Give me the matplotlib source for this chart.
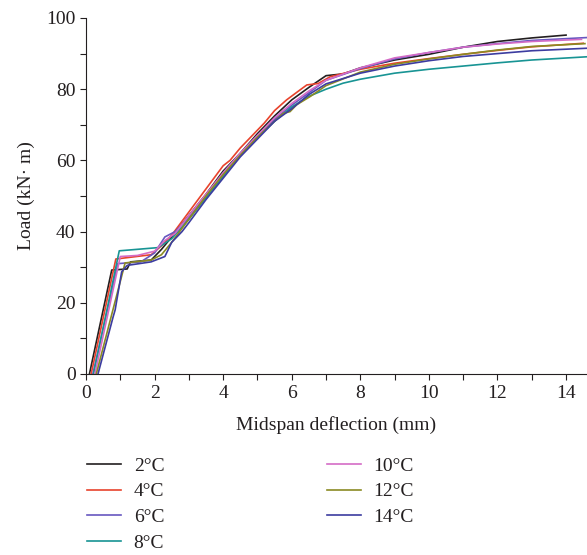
import matplotlib
matplotlib.use("Agg")
import matplotlib.pyplot as plt

plt.rcParams['font.family'] = ['Liberation Serif', 'DejaVu Serif']

labels = ['2°C', '4°C', '6°C', '8°C', '10°C', '12°C', '14°C']
colors = ['#231f20', '#e8432c', '#6757c0', '#189494', '#d46cc6', '#8a8a22', '#3c3ca0']

x_2 = [0.10, 0.75, 1.20, 1.30, 1.90, 2.20, 2.50, 3.0, 3.5, 4.0, 4.5, 5.0, 5.5, 6.0, 6.5, 7.0, 7.5, 8.0, 9.0, 10.0, 11.0, 12.0, 13.0, 14.0]
y_2 = [0.0, 29.2, 29.5, 31.5, 32.0, 35.0, 38.5, 44.5, 50.5, 57.0, 62.0, 67.5, 72.5, 77.0, 80.5, 83.8, 84.3, 86.0, 88.2, 89.8, 91.8, 93.4, 94.4, 95.2]

x_4 = [0.15, 0.87, 1.90, 2.20, 2.50, 3.0, 3.5, 4.0, 4.2, 4.5, 5.0, 5.2, 5.5, 5.85, 6.2, 6.44, 6.77, 7.12, 7.7, 8.0, 9.0, 10.0, 11.0, 12.0, 13.0, 14.5]
y_4 = [0.0, 32.3, 33.5, 36.0, 39.0, 45.5, 52.0, 58.5, 60.0, 63.5, 68.5, 70.5, 74.0, 77.0, 79.5, 81.2, 81.6, 83.5, 84.9, 85.6, 87.3, 88.6, 89.8, 90.9, 91.9, 92.9]

x_6 = [0.20, 0.93, 1.60, 2.00, 2.30, 2.60, 3.0, 3.5, 4.0, 4.5, 5.0, 5.5, 6.0, 6.5, 7.0, 8.0, 9.0, 10.0, 11.0, 12.0, 13.0, 14.6]
y_6 = [0.0, 31.0, 31.5, 34.0, 38.5, 40.0, 44.0, 50.0, 56.5, 62.0, 67.0, 71.5, 75.5, 79.0, 82.5, 85.8, 88.5, 90.3, 91.8, 92.8, 93.7, 94.5]

x_8 = [0.22, 0.97, 2.10, 2.50, 3.0, 3.5, 4.0, 4.5, 5.0, 5.5, 6.0, 6.5, 7.0, 7.5, 8.0, 9.0, 10.0, 11.0, 12.0, 13.0, 14.6]
y_8 = [0.0, 34.6, 35.5, 38.0, 43.5, 49.5, 55.5, 61.5, 66.5, 71.0, 75.0, 78.0, 80.0, 81.7, 82.8, 84.5, 85.6, 86.5, 87.4, 88.2, 89.1]

x_10 = [0.26, 1.00, 1.50, 2.00, 2.30, 2.60, 3.0, 3.5, 4.0, 4.5, 5.0, 5.5, 6.0, 6.5, 7.0, 8.0, 9.0, 10.0, 11.0, 12.0, 13.0, 14.45]
y_10 = [0.0, 33.0, 33.3, 34.5, 37.5, 39.5, 44.5, 50.5, 56.5, 62.0, 67.0, 72.0, 76.0, 79.5, 82.5, 86.0, 88.8, 90.3, 91.8, 92.7, 93.4, 94.0]

x_12 = [0.30, 1.14, 1.90, 2.20, 2.50, 3.0, 3.5, 4.0, 4.5, 5.0, 5.5, 5.75, 5.95, 6.14, 6.53, 7.0, 8.0, 9.0, 10.0, 11.0, 12.0, 13.0, 14.55]
y_12 = [0.0, 31.2, 32.0, 33.5, 37.0, 43.5, 50.0, 56.0, 61.5, 66.5, 71.0, 73.2, 73.7, 75.6, 77.9, 81.0, 84.8, 87.0, 88.5, 89.8, 91.0, 92.0, 92.8]

x_14 = [0.35, 0.79, 0.85, 1.04, 1.20, 1.90, 2.30, 2.50, 2.80, 3.0, 3.5, 4.0, 4.5, 5.0, 5.5, 6.0, 6.5, 7.0, 8.0, 9.0, 10.0, 11.0, 12.0, 13.0, 14.6]
y_14 = [0.0, 16.0, 18.0, 28.7, 30.5, 31.5, 33.0, 37.0, 40.0, 42.5, 49.0, 55.0, 61.0, 66.0, 71.0, 74.5, 78.5, 81.5, 84.5, 86.5, 88.0, 89.2, 90.0, 90.8, 91.5]

series_x = [x_2, x_4, x_6, x_8, x_10, x_12, x_14]
series_y = [y_2, y_4, y_6, y_8, y_10, y_12, y_14]

W, H = 587, 555
fig = plt.figure(figsize=(W / 100, H / 100), dpi=100)
ax = fig.add_axes([86 / W, 1 - 374 / H, (W - 86) / W, (374 - 18) / H])

txt = '#231f20'
for xs, ys, c, lab in zip(series_x, series_y, colors, labels):
    ax.plot(xs, ys, color=c, lw=1.2, label=lab)

ax.set_xlim(0, (W - 86) / 34.29)
ax.set_ylim(0, 100)
ax.set_xticks(range(0, 15, 2))
ax.set_xticks(range(1, 15, 2), minor=True)
ax.set_yticks(range(0, 101, 20))
ax.set_yticks(range(10, 100, 20), minor=True)
for s in ['top', 'right']:
    ax.spines[s].set_visible(False)
for s in ['left', 'bottom']:
    ax.spines[s].set_color(txt)
    ax.spines[s].set_linewidth(0.8)
ax.tick_params(which='both', direction='out', length=4, width=0.8, colors=txt, labelsize=14)
ax.tick_params(axis='x', pad=4)
ax.set_xlabel('Midspan deflection (mm)', fontsize=14, color=txt, labelpad=10)
ax.set_ylabel('Load (kN· m)', fontsize=14, color=txt, labelpad=8)

fig.legend(loc='upper left', bbox_to_anchor=(87 / W, 1 - 457 / H), ncol=2,
           frameon=False, fontsize=14, handlelength=1.75, handletextpad=0.65,
           columnspacing=8.35, labelspacing=0.42, borderpad=0, borderaxespad=0,
           labelcolor=txt)

fig.savefig('out.png', dpi=100)
